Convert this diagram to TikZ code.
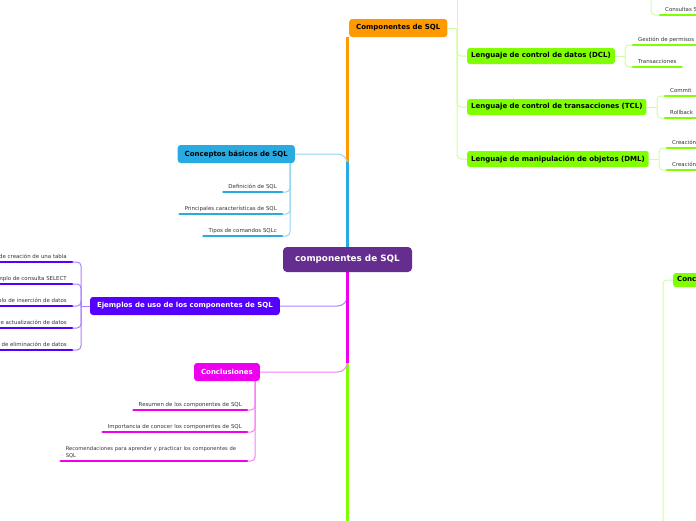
\documentclass[tikz,border=0pt]{standalone}
\usepackage{fontspec}
\setmainfont{DejaVu Sans}
\usetikzlibrary{calc}
\pgfdeclarelayer{bg}
\pgfsetlayers{bg,main}
\definecolor{cRoot}{HTML}{662D91}
\definecolor{cOrange}{HTML}{FF9900}
\definecolor{cBlue}{HTML}{29ABE2}
\definecolor{cBlueL}{HTML}{94D5F1}
\definecolor{cVio}{HTML}{5500FF}
\definecolor{cVioL}{HTML}{AA80FF}
\definecolor{cMag}{HTML}{EE00EE}
\definecolor{cMagL}{HTML}{F680F6}
\definecolor{cGreen}{HTML}{80FF00}
\definecolor{cGreenL}{HTML}{CCFFA0}
\definecolor{cText}{HTML}{333333}
\tikzset{
  rootnode/.style={rectangle, rounded corners=4pt, fill=cRoot, text=white,
    minimum width=129pt, minimum height=25pt, inner sep=0pt,
    font=\fontsize{8.8}{10}\selectfont\bfseries},
  topic/.style={rectangle, rounded corners=3pt, inner xsep=7pt, inner ysep=0pt,
    minimum height=18pt, font=\fontsize{7}{8}\selectfont\bfseries},
  subtopic/.style={rectangle, rounded corners=2.5pt, inner xsep=4pt, inner ysep=0pt,
    minimum height=16pt, fill=cGreen, text=black, font=\fontsize{7}{8}\selectfont\bfseries},
  leaf/.style={inner xsep=5pt, inner ysep=2.6pt, text height=4pt, text depth=1.2pt,
    text=cText, font=\fontsize{5.45}{6.7}\selectfont},
  uline/.style={line width=2.6pt, line cap=round},
  thin/.style={line width=1pt, rounded corners=4pt},
  trunk/.style={line width=2.5pt},
}
\begin{document}
\begin{tikzpicture}[x=1pt,y=-1pt]
\useasboundingbox (0,0) rectangle (696,520);
\clip (0,0) rectangle (696,520);

% main nodes
\node[rootnode] (root) at (347.5,259.5) {componentes de SQL};
\node[topic, fill=cOrange, text=black, anchor=west] (comp) at (349,28) {Componentes de SQL};
\node[topic, fill=cBlue, text=black, anchor=east] (cb) at (295,154) {Conceptos básicos de SQL};
\node[topic, fill=cVio, text=white, anchor=east] (ej) at (280,306) {Ejemplos de uso de los componentes de SQL};
\node[topic, fill=cMag, text=white, anchor=east] (cl) at (260,372) {Conclusiones};

% green subtopics
\node[subtopic, anchor=west] (dcl) at (467,56) {Lenguaje de control de datos (DCL)};
\node[subtopic, anchor=west] (tcl) at (467,107) {Lenguaje de control de transacciones (TCL)};
\node[subtopic, anchor=west] (dml) at (467,159) {Lenguaje de manipulación de objetos (DML)};
\node[subtopic, anchor=west, minimum height=14pt] (cc) at (673,280) {Conceptos};

% leaves: conceptos
\node[leaf, anchor=south east] (d1) at (282,192) {Definición de SQL};
\node[leaf, anchor=south east] (d2) at (282,214) {Principales características de SQL};
\node[leaf, anchor=south east] (d3) at (282,236) {Tipos de comandos SQLc};
% leaves: ejemplos
\node[leaf, anchor=south east] (e1) at (72,262) {Ejemplo de creación de una tabla};
\node[leaf, anchor=south east] (e2) at (72,284) {Ejemplo de consulta SELECT};
\node[leaf, anchor=south east] (e3) at (72,306) {Ejemplo de inserción de datos};
\node[leaf, anchor=south east] (e4) at (72,328) {Ejemplo de actualización de datos};
\node[leaf, anchor=south east] (e5) at (72,350) {Ejemplo de eliminación de datos};
% leaves: conclusiones
\node[leaf, anchor=south east] (c1) at (247,410) {Resumen de los componentes de SQL};
\node[leaf, anchor=south east] (c2) at (247,432) {Importancia de conocer los componentes de SQL};
\node[leaf, anchor=south east, text height=, text depth=, text width=176pt, align=left,
  font=\fontsize{5.2}{6.7}\selectfont] (c3) at (247,461)
  {Recomendaciones para aprender y practicar los componentes de SQL};
% leaves: right side
\node[leaf, anchor=south west] (s1) at (660,15) {Consultas SELECT};
\node[leaf, anchor=south west] (g1) at (633,45) {Gestión de permisos};
\node[leaf, anchor=south west] (g2) at (633,67) {Transacciones};
\node[leaf, anchor=south west] (t1) at (665,96) {Commit};
\node[leaf, anchor=south west] (t2) at (665,118) {Rollback};
\node[leaf, anchor=south west] (m1) at (667,148) {Creación};
\node[leaf, anchor=south west] (m2) at (667,170) {Creación};

% branch points
\coordinate (cbv) at (290,163);
\coordinate (ejv) at (81,306);
\coordinate (clv) at (255,381);
\coordinate (cv) at (457,28);
\coordinate (cvtop) at (457,-20);
\coordinate (dclv) at (625,56);
\coordinate (tclv) at (657,107);
\coordinate (dmlv) at (659,159);
\coordinate (sv) at (651,-20);
\coordinate (ccv) at (663,540);
\coordinate (gbot) at (347.5,540);

\begin{pgfonlayer}{bg}
  % trunk
  \draw[cOrange, trunk] (root.north) -- (root.north |- comp.south);
  \draw[cBlueL, thin, rounded corners=10pt] (cb.east) -| (root.north);
  \draw[cBlue, trunk] (root.north) -- ($(root.north |- cb.east)+(0,8)$);
  \draw[cGreen, trunk] (root.south) -- (gbot);
  \draw[cVioL, thin, rounded corners=10pt] (ej.east) -| (root.south);
  \draw[cMagL, thin, rounded corners=10pt] (cl.east) -| (root.south);
  \draw[cMag, trunk] (root.south) -- ($(root.south |- cl.east)+(0,-9)$);

  % conceptos children
  \foreach \n in {d1,d2,d3} \draw[cBlueL, thin] (cb.south -| cbv) |- (\n.south east);
  % ejemplos children
  \draw[cVioL, thin] (ej.west) -- (ejv);
  \foreach \n in {e1,e2,e3,e4,e5} \draw[cVioL, thin] (ejv) |- (\n.south east);
  % conclusiones children
  \foreach \n in {c1,c2,c3} \draw[cMagL, thin] (cl.south -| clv) |- (\n.south east);

  % componentes children
  \draw[cGreenL, thin] (comp.east) -- (cv);
  \draw[cGreenL, thin] (cv) -- (cvtop);
  \foreach \n in {dcl,tcl,dml} \draw[cGreenL, thin] (cv) |- (\n.west);
  \draw[cGreenL, thin] (dcl.east) -- (dclv);
  \foreach \n in {g1,g2} \draw[cGreenL, thin] (dclv) |- (\n.south west);
  \draw[cGreenL, thin] (tcl.east) -- (tclv);
  \foreach \n in {t1,t2} \draw[cGreenL, thin] (tclv) |- (\n.south west);
  \draw[cGreenL, thin] (dml.east) -- (dmlv);
  \foreach \n in {m1,m2} \draw[cGreenL, thin] (dmlv) |- (\n.south west);
  \draw[cGreenL, thin] (sv) |- (s1.south west);
  \draw[cGreenL, thin] (ccv) |- (cc.west);
\end{pgfonlayer}

% underlines
\foreach \n in {d1,d2,d3} \draw[cBlue, uline] (\n.south west) -- (\n.south east);
\foreach \n in {e1,e2,e3,e4,e5} \draw[cVio, uline] (\n.south west) -- (\n.south east);
\foreach \n in {c1,c2,c3} \draw[cMag, uline] (\n.south west) -- (\n.south east);
\foreach \n in {s1,g1,g2,t1,t2,m1,m2} \draw[cGreen, uline] (\n.south west) -- (\n.south east);
\end{tikzpicture}
\end{document}
